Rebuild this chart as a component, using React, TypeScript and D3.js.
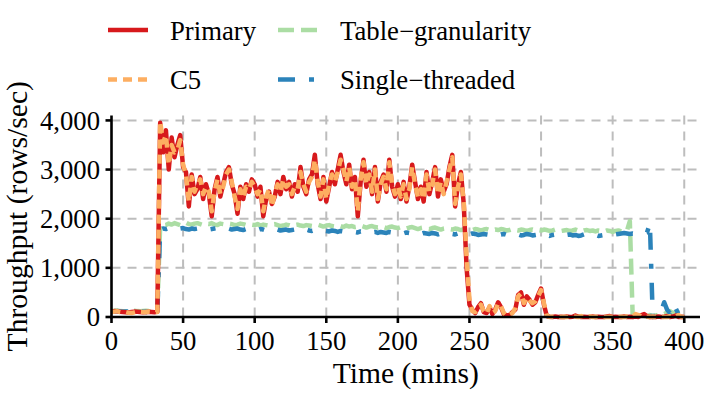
import React from "react";
import * as d3 from "d3";

// sample times (mins), one reading every 2 minutes
const minutes = d3.range(0, 401, 2);

const primary = [
  110, 120, 115, 105, 100, 95, 90, 100, 110, 105,
  100, 95, 100, 105, 100, 95, 110, 3950, 3350, 3800,
  3000, 3650, 3250, 3500, 3700, 3050, 2950, 2250, 2900, 2500,
  2600, 2850, 2400, 2700, 2500, 2050, 2600, 2850, 2450, 2700,
  2950, 3050, 2700, 2500, 2100, 2650, 2400, 2700, 2550, 2800,
  2700, 2450, 2650, 2050, 2400, 2550, 2300, 2450, 2750, 2500,
  2850, 2600, 2750, 2450, 2700, 2550, 3050, 2650, 2500, 2800,
  2900, 3300, 2700, 2400, 2850, 2350, 2650, 2950, 2700, 3000,
  3300, 2950, 2700, 3100, 2600, 2850, 2050, 2750, 3200, 2650,
  2950, 2500, 3050, 2350, 2750, 2900, 2550, 3200, 2650, 2450,
  2700, 2400, 2750, 2350, 2650, 3100, 2750, 2400, 2650, 2350,
  2950, 2500, 2750, 3050, 2450, 2800, 2550, 2700, 3050, 3300,
  2250, 2700, 2950, 2300, 1000, 250, 150, 80, 200, 280,
  100, 80, 200, 60, 150, 300, 200, 60, 30, 40,
  100, 150, 450, 500, 250, 420, 350, 250, 300, 450,
  580, 250, 20, 5, 0, 10, 0, 5, 0, 10,
  0, 5, 30, 10, 0, 5, 0, 0, 10, 0,
  5, 0, 0, 10, 20, 0, 5, 0, 0, 10,
  0, 5, 0, 10, 0, 40, 60, 20, 0, 5,
  0, 10, 0, 5, 20, 0, 10, 30, 0, 5,
  0,
];

const c5 = [
  100, 110, 120, 100, 95, 100, 85, 80, 95, 110,
  105, 100, 95, 110, 105, 100, 100, 3980, 3550, 3700,
  3100, 3500, 3350, 3400, 3600, 3100, 2900, 2350, 2850, 2550,
  2700, 2800, 2500, 2650, 2550, 2150, 2550, 2800, 2500, 2650,
  2900, 3000, 2750, 2450, 2200, 2600, 2450, 2650, 2600, 2750,
  2650, 2500, 2600, 2150, 2450, 2600, 2250, 2500, 2700, 2550,
  2800, 2650, 2700, 2500, 2650, 2600, 2950, 2700, 2550, 2750,
  2850, 3200, 2750, 2450, 2800, 2400, 2700, 2900, 2750, 2950,
  3200, 3000, 2750, 3050, 2650, 2800, 2150, 2800, 3150, 2700,
  2900, 2550, 3000, 2400, 2700, 2850, 2600, 3150, 2700, 2500,
  2650, 2450, 2700, 2400, 2600, 3050, 2700, 2450, 2600, 2400,
  2900, 2550, 2700, 3000, 2500, 2750, 2500, 2750, 3000, 3250,
  2300, 2650, 2900, 2350, 1200, 350, 120, 100, 180, 250,
  120, 60, 220, 80, 120, 280, 220, 80, 20, 50,
  80, 180, 420, 480, 280, 400, 330, 280, 320, 420,
  550, 280, 30, 0, 5, 0, 10, 0, 5, 0,
  10, 0, 5, 0, 20, 0, 0, 10, 0, 5,
  0, 10, 0, 0, 5, 0, 10, 0, 5, 0,
  10, 0, 5, 60, 40, 10, 0, 5, 0, 10,
  0, 5, 10, 0, 0, 15, 0, 10, 40, 0,
  0,
];

const tableGranularity = [
  120, 125, 130, 120, 115, 110, 120, 125, 130, 120,
  115, 120, 125, 120, 110, 115, 120, 1880, 1860, 1870,
  1900, 1880, 1910, 1890, 1870, 1900, 1920, 1890, 1880, 1900,
  1910, 1890, 1870, 1900, 1890, 1910, 1880, 1870, 1900, 1890,
  1880, 1900, 1890, 1870, 1880, 1900, 1890, 1870, 1860, 1880,
  1870, 1890, 1860, 1880, 1870, 1860, 1880, 1890, 1870, 1850,
  1860, 1880, 1870, 1850, 1870, 1880, 1860, 1850, 1870, 1860,
  1850, 1870, 1880, 1860, 1840, 1860, 1870, 1850, 1840, 1860,
  1850, 1830, 1860, 1840, 1850, 1830, 1840, 1860, 1840, 1820,
  1840, 1850, 1830, 1820, 1840, 1830, 1810, 1830, 1840, 1820,
  1810, 1830, 1820, 1800, 1820, 1830, 1810, 1790, 1810, 1820,
  1800, 1790, 1810, 1820, 1800, 1780, 1800, 1810, 1790, 1780,
  1800, 1790, 1770, 1790, 1800, 1780, 1770, 1790, 1780, 1760,
  1780, 1790, 1770, 1760, 1780, 1770, 1790, 1780, 1760, 1770,
  1790, 1770, 1760, 1780, 1770, 1750, 1770, 1780, 1760, 1770,
  1760, 1780, 1770, 1750, 1760, 1780, 1770, 1750, 1760, 1770,
  1750, 1760, 1780, 1760, 1740, 1760, 1770, 1750, 1760, 1740,
  1760, 1750, 1740, 1760, 1750, 1730, 1750, 1760, 1740, 1750,
  1760, 1950, 0, 10, 20, 0, 30, 10, 40, 20,
  30, 50, 80, 60, 90, 120, 80, 100, 90, 60,
  40,
];

const singleThreaded = [
  100, 110, 120, 115, 105, 110, 115, 120, 110, 100,
  105, 110, 100, 95, 100, 105, 100, 1780, 1800, 1790,
  1810, 1790, 1800, 1780, 1800, 1810, 1790, 1780, 1800, 1790,
  1800, 1810, 1790, 1800, 1780, 1790, 1800, 1810, 1790, 1780,
  1790, 1800, 1780, 1790, 1800, 1780, 1770, 1790, 1780, 1790,
  1780, 1770, 1790, 1780, 1760, 1780, 1790, 1770, 1780, 1760,
  1770, 1780, 1760, 1770, 1780, 1760, 1750, 1770, 1780, 1760,
  1750, 1770, 1760, 1740, 1760, 1750, 1740, 1760, 1750, 1730,
  1750, 1740, 1730, 1750, 1740, 1730, 1720, 1740, 1730, 1720,
  1740, 1720, 1730, 1710, 1730, 1720, 1710, 1730, 1720, 1700,
  1720, 1710, 1700, 1720, 1710, 1690, 1710, 1700, 1690, 1710,
  1700, 1690, 1710, 1700, 1680, 1700, 1690, 1680, 1700, 1690,
  1680, 1700, 1690, 1670, 1690, 1680, 1700, 1690, 1670, 1680,
  1690, 1680, 1670, 1690, 1680, 1660, 1680, 1690, 1670, 1680,
  1670, 1690, 1680, 1660, 1670, 1690, 1680, 1660, 1670, 1680,
  1660, 1680, 1670, 1650, 1670, 1680, 1660, 1670, 1650, 1670,
  1680, 1660, 1670, 1650, 1660, 1680, 1670, 1650, 1660, 1670,
  1650, 1660, 1670, 1660, 1650, 1670, 1680, 1690, 1700, 1710,
  1700, 1690, 1700, 1690, 1700, 1710, 1700, 1720, 1900, 0,
  80, 100, 120, 300, 150, 80, 250, 180, 60, 90,
  50,
];

const xTicks = [0, 50, 100, 150, 200, 250, 300, 350, 400];
const yTicks = [0, 1000, 2000, 3000, 4000];

const seriesNames = ["Primary", "C5", "Table\u2212granularity", "Single\u2212threaded"];
const seriesValues = [primary, c5, tableGranularity, singleThreaded];
const seriesColors = ["#d7191c", "#fdae61", "#abdda4", "#2b83ba"];
const seriesDash = ["none", "9,6", "16,7", "17,14,5,14"];

const width = 706;
const height = 397;
const FONT = "'Liberation Serif', 'Times New Roman', serif";

export default function App() {
  const x = d3.scaleLinear().domain([0, 411]).range([111.5, 700]);
  const y = d3.scaleLinear().domain([0, 4100]).range([317, 115.5]);

  const line = d3
    .line<number>()
    .x((_, i) => x(minutes[i]))
    .y((d) => y(d));

  const fmt = d3.format(",");
  // draw order: green, blue under red, orange
  const drawOrder = [2, 3, 0, 1];

  const legendPos = [
    { lx: 108, tx: 170, ly: 30, ty: 39.5 },
    { lx: 108, tx: 170, ly: 79.5, ty: 89 },
    { lx: 278, tx: 340, ly: 30, ty: 39.5 },
    { lx: 278, tx: 340, ly: 79.5, ty: 89 },
  ];

  return (
    <svg
      width={width}
      height={height}
      style={{ position: "absolute", left: 0, top: 0, background: "#fff" }}
      fontFamily={FONT}
    >
      {/* grid */}
      <g stroke="#bdbdbd" strokeWidth={2} strokeDasharray="9,7">
        {xTicks.filter((t) => t > 0).map((t) => (
          <line key={"gx" + t} x1={x(t)} x2={x(t)} y1={y.range()[1]} y2={y(0)} />
        ))}
        {yTicks.filter((t) => t > 0).map((t) => (
          <line key={"gy" + t} x1={x(0)} x2={700} y1={y(t)} y2={y(t)} />
        ))}
      </g>

      {/* series */}
      {drawOrder.map((k) => (
        <path
          key={seriesNames[k]}
          d={line(seriesValues[k]) || ""}
          fill="none"
          stroke={seriesColors[k]}
          strokeWidth={4.5}
          strokeDasharray={seriesDash[k]}
          strokeLinejoin="round"
        />
      ))}

      {/* axes */}
      <g stroke="#000" strokeWidth={2.6}>
        <line x1={x(0)} x2={x(0)} y1={y.range()[1]} y2={y(0) + 1.3} />
        <line x1={x(0) - 1.3} x2={700} y1={y(0)} y2={y(0)} />
        {xTicks.map((t) => (
          <line key={"tx" + t} x1={x(t)} x2={x(t)} y1={y(0)} y2={y(0) + 6} />
        ))}
        {yTicks.map((t) => (
          <line key={"ty" + t} x1={x(0) - 6} x2={x(0)} y1={y(t)} y2={y(t)} />
        ))}
      </g>
      <g fontSize={26.7} fill="#000">
        {xTicks.map((t) => (
          <text key={"lx" + t} x={x(t)} y={350} textAnchor="middle">
            {t}
          </text>
        ))}
        {yTicks.map((t) => (
          <text key={"ly" + t} x={100} y={y(t)} dy="0.35em" textAnchor="end">
            {fmt(t)}
          </text>
        ))}
      </g>

      <text x={(x(0) + 700) / 2} y={383} textAnchor="middle" fontSize={29.6}>
        Time (mins)
      </text>
      <text
        transform={`translate(27,${(y(0) + y.range()[1]) / 2}) rotate(-90)`}
        textAnchor="middle"
        fontSize={29.6}
      >
        Throughput (rows/sec)
      </text>

      {/* legend */}
      {seriesNames.map((name, k) => {
        const p = legendPos[k];
        return (
          <g key={"lg" + name}>
            <line
              x1={p.lx}
              x2={p.lx + 40}
              y1={p.ly}
              y2={p.ly}
              stroke={seriesColors[k]}
              strokeWidth={4.5}
              strokeDasharray={seriesDash[k]}
            />
            <text x={p.tx} y={p.ty} fontSize={26.7}>
              {name}
            </text>
          </g>
        );
      })}
    </svg>
  );
}
